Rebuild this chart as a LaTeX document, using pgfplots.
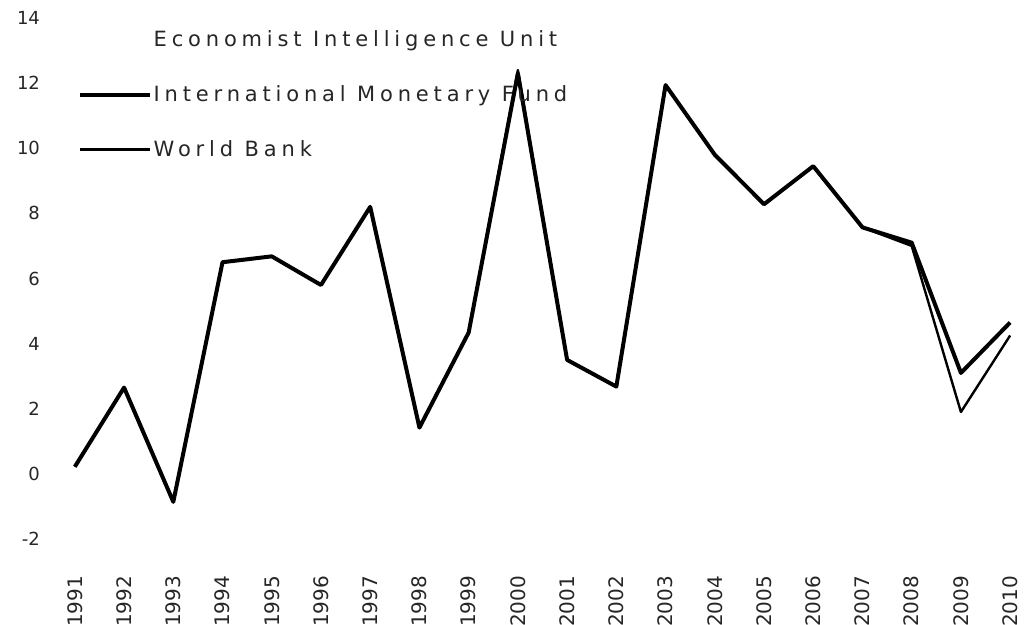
\documentclass[border=0pt]{standalone}
\usepackage{fontspec}
\setmainfont{DejaVu Sans}
\usepackage{pgfplots}
\pgfplotsset{compat=1.18}
\begin{document}
\begin{tikzpicture}
\path[use as bounding box] (-32.5pt,-43pt) rectangle (482.5pt,269.5pt);
\begin{axis}[
  scale only axis,
  width=477.5pt, height=260.5pt,
  xmin=1990.8, xmax=2010.2,
  ymin=-2, ymax=14,
  ytick={-2,0,2,4,6,8,10,12,14},
  xtick={1991,1992,...,2010},
  axis line style={draw=none},
  major tick length=0pt,
  /pgf/number format/1000 sep={},
  /pgf/number format/assume math mode=true,
  tick label style={font=\fontsize{10}{12}\selectfont, color=black!85},
  yticklabel style={xshift=-9pt, font=\fontsize{9}{11}\selectfont},
  xticklabel style={yshift=-15pt, rotate=90, anchor=east},
  legend style={draw=none, fill=none, at={(axis cs:1991.05,13.7)}, anchor=north west,
    row sep=16pt, font=\fontsize{10.5}{12}\selectfont\addfontfeatures{LetterSpace=23}, text=black!85,
    inner sep=0pt, nodes={inner sep=1pt}},
  legend cell align=left,
  legend image code/.code={\draw[#1] (0pt,0pt) -- (35pt,0pt);},
]
\addlegendimage{draw=white, line width=0pt, opacity=0}
\addlegendentry{Economist Intelligence Unit}
\addplot[black, line width=2pt, line join=round] coordinates {
(1991,0.22) (1992,2.65) (1993,-0.86) (1994,6.5) (1995,6.68) (1996,5.8)
(1997,8.2) (1998,1.42) (1999,4.34) (2000,12.3) (2001,3.5) (2002,2.68)
(2003,11.94) (2004,9.8) (2005,8.28) (2006,9.45) (2007,7.57) (2008,7.1)
(2009,3.1) (2010,4.65)};
\addlegendentry{International Monetary Fund}
\addplot[black, line width=1.2pt, line join=round] coordinates {
(1991,0.22) (1992,2.65) (1993,-0.86) (1994,6.5) (1995,6.68) (1996,5.8)
(1997,8.2) (1998,1.42) (1999,4.34) (2000,12.4) (2001,3.5) (2002,2.68)
(2003,11.94) (2004,9.8) (2005,8.28) (2006,9.45) (2007,7.57) (2008,7.0)
(2009,1.9) (2010,4.25)};
\addlegendentry{World Bank}
\end{axis}
\end{tikzpicture}
\end{document}
